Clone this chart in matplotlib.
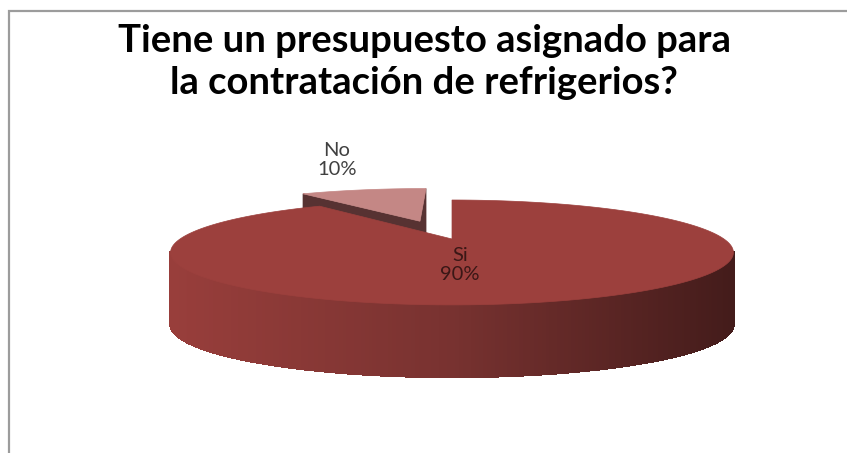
import numpy as np
import matplotlib
matplotlib.use('Agg')
import matplotlib.pyplot as plt
from matplotlib.collections import PolyCollection
from matplotlib.patches import Polygon

# data
labels = ['Si', 'No']
values = [90, 10]
title = 'Tiene un presupuesto asignado para\nla contratación de refrigerios?'

# look of the 3d pie (pixel space of the 847x453 picture)
CX, CY = 452, 239          # pie centre on the top face
A, B, K = 272, 49, 0.2565  # half width, half depth, perspective
H = 72                     # thickness
explode = [0.0, 0.42]
top_colors = ['#9c403d', '#c48785']
face_colors = ['#7a3230', '#573232']


def proj(x, y, z=0.0):
    p = 1.0 / (1.0 + K * y)
    return CX + A * x * p, CY - B * y * p + H * z


def arc(t0, t1, ox, oy, z=0.0, n=200):
    t = np.radians(np.linspace(t0, t1, n))
    return [proj(ox + np.sin(a), oy + np.cos(a), z) for a in t]


def side_color(u):
    stops_u = [173, 450, 740]
    stops_c = [(152, 62, 59), (120, 50, 48), (66, 27, 26)]
    c = [np.interp(u, stops_u, [s[i] for s in stops_c]) / 255 for i in range(3)]
    return c


fig = plt.figure(figsize=(8.47, 4.53), dpi=100)
ax = fig.add_axes([0, 0, 1, 1])
ax.set_xlim(0, 847)
ax.set_ylim(453, 0)
ax.axis('off')

# chart frame
ax.plot([8.5, 8.5, 860], [470, 11, 11], color='#9c9c9c', lw=1.6,
        solid_joinstyle='miter')

total = sum(values)
bounds = np.concatenate([[0], np.cumsum(values)]) / total * 360

# slices drawn back to front: the small exploded one first
for i in [1, 0]:
    t0, t1 = bounds[i], bounds[i + 1]
    mid = np.radians((t0 + t1) / 2)
    ox, oy = explode[i] * np.sin(mid), explode[i] * np.cos(mid)
    apex_top = proj(ox, oy, 0)
    apex_bot = proj(ox, oy, 1)

    if i == 1:
        # radial faces of the small slice
        for t in [t0, t1]:
            e_top = proj(ox + np.sin(np.radians(t)), oy + np.cos(np.radians(t)), 0)
            e_bot = proj(ox + np.sin(np.radians(t)), oy + np.cos(np.radians(t)), 1)
            ax.add_patch(Polygon([apex_top, e_top, e_bot, apex_bot],
                                 closed=True, fc=face_colors[i], ec=face_colors[i], lw=0.5))
    else:
        # outer wall seen from the front, shaded left to right
        s0 = 90 + np.degrees(np.arcsin(K))
        s1 = 270 - np.degrees(np.arcsin(K))
        ts = np.linspace(s0, s1, 240)
        polys, cols = [], []
        for a0, a1 in zip(ts[:-1], ts[1:]):
            top = arc(a0, a1, ox, oy, 0, 4)
            bot = arc(a1, a0, ox, oy, 1, 4)
            polys.append(top + bot)
            cols.append(side_color(np.mean([q[0] for q in top])))
        ax.add_collection(PolyCollection(polys, facecolors=cols, edgecolors=cols,
                                         lw=1.2, antialiased=False))

    pts = [apex_top] + arc(t0, t1, ox, oy, 0) + [apex_top]
    ax.add_patch(Polygon(pts, closed=True, fc=top_colors[i], ec=top_colors[i], lw=0.5))

# data labels
pct = [f'{v / total:.0%}' for v in values]
ax.text(460, 265, f'{labels[0]}\n{pct[0]}', ha='center', va='center',
        fontsize=14.5, family='Lato', color='#3a1716', linespacing=1.2)
ax.text(337, 160, f'{labels[1]}\n{pct[1]}', ha='center', va='center',
        fontsize=14.5, family='Lato', color='#404040', linespacing=1.2)

ax.text(424, 62, title, ha='center', va='center', fontsize=27.5,
        family='Lato', weight='bold', color='black', linespacing=1.27)

fig.savefig('out.png', dpi=100)
